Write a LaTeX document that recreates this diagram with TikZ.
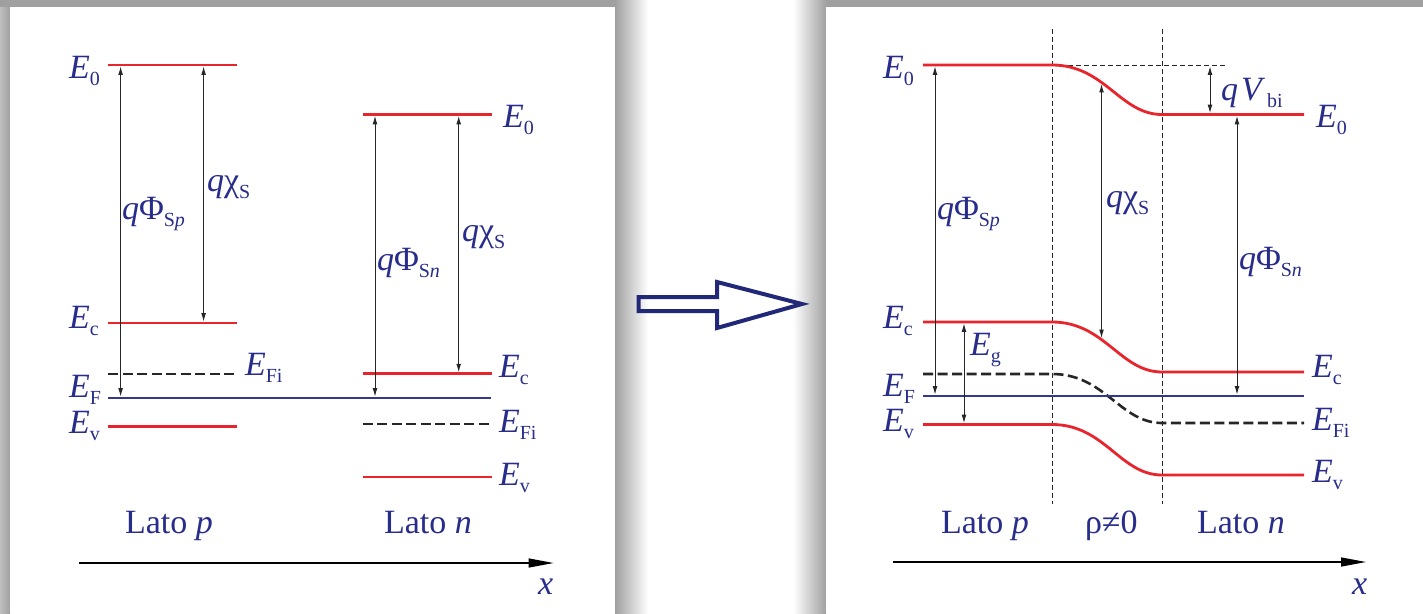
\documentclass[tikz,border=0pt]{standalone}
\usepackage{fontspec}
\setmainfont{Liberation Serif}
\usetikzlibrary{arrows.meta}
\definecolor{navy}{RGB}{40,44,138}
\definecolor{bandred}{RGB}{232,36,44}
\definecolor{fermi}{RGB}{52,56,140}
\definecolor{shadowgray}{RGB}{160,160,160}
\definecolor{shadowlight}{RGB}{190,190,190}
\definecolor{arrownavy}{RGB}{34,40,120}
\newcommand{\sbs}[1]{\raisebox{-7.5pt}{\fontsize{20}{20}\selectfont #1}}
\newcommand{\En}[1]{\textit{E}\sbs{#1}}
\newcommand{\qPhi}[1]{\textit{q}Φ\sbs{S\textit{#1}}}
\newcommand{\qChi}{\textit{q}χ\sbs{S}}
\begin{document}
\begin{tikzpicture}[x=1pt,y=-1pt,
 lab/.style={text=navy,font=\fontsize{34}{40}\selectfont,inner sep=0pt,outer sep=0pt,anchor=base west},
 band/.style={draw=bandred,line width=2.8pt},
 ef/.style={draw=fermi,line width=2.6pt},
 fi/.style={draw=black!85,line width=2.6pt,dash pattern=on 10pt off 4.5pt},
 dbl/.style={{Latex[length=8.5pt,width=4.8pt]}-{Latex[length=8.5pt,width=4.8pt]},line width=1pt,draw=black!85},
 guide/.style={draw=black!85,line width=0.9pt,dash pattern=on 5pt off 3pt},
 axis/.style={-{Triangle[length=25pt,width=9pt]},line width=1.3pt,draw=black},
 blockarrow/.style={draw=arrownavy,line width=4pt,line join=miter}
]
\useasboundingbox (0,0) rectangle (1423,613);
\fill[white] (0,0) rectangle (1423,613);
% shadows
\shade[left color=shadowlight,right color=shadowgray] (0,0) rectangle (10,613);
\fill[shadowgray] (0,0) rectangle (615,7);
\shade[left color=shadowgray,right color=white] (615,0) rectangle (648,613);
\shade[left color=white,right color=shadowgray] (793,0) rectangle (826,613);
\fill[shadowgray] (826,0) rectangle (1423,7);
% panels
\fill[white] (10,7) rectangle (615,613);
\fill[white] (826,7) rectangle (1423,613);

% ================= LEFT PANEL =================
\draw[band] (108,65) -- (237,65);
\draw[band] (108,323) -- (237,323);
\draw[fi] (108,374) -- (237,374);
\draw[ef] (108,398) -- (491,398);
\draw[band] (108,426.5) -- (237,426.5);
\draw[band] (362.6,114.5) -- (491.5,114.5);
\draw[band] (362.6,373.7) -- (491.5,373.7);
\draw[fi] (362.6,424) -- (491.5,424);
\draw[band] (362.6,477) -- (491.5,477);

\coordinate (a1t) at (120.6,66.3); \coordinate (a1b) at (120.6,396.7);
\coordinate (a2t) at (203.6,66.3); \coordinate (a2b) at (203.6,321.7);
\coordinate (a3t) at (375,115.8);  \coordinate (a3b) at (375,396.7);
\coordinate (a4t) at (458.7,115.8); \coordinate (a4b) at (458.7,372.4);
\draw[dbl] (a1t) -- (a1b);
\draw[dbl] (a2t) -- (a2b);
\draw[dbl] (a3t) -- (a3b);
\draw[dbl] (a4t) -- (a4b);

\node[lab] (lE0) at (69,78) {\En{0}};
\node[lab] (lEc) at (69,328) {\En{c}};
\node[lab] (lEF) at (69,397) {\En{F}};
\node[lab] (lEv) at (69,433) {\En{v}};
\node[lab] (lEFi) at (245,375) {\En{Fi}};
\node[lab] (lphip) at (122,219) {\qPhi{p}};
\node[lab] (lchip) at (207,191) {\qChi};
\node[lab] (lphin) at (377,270) {\qPhi{n}};
\node[lab] (lchin) at (462,241) {\qChi};
\node[lab] (lE0n) at (503,127) {\En{0}};
\node[lab] (lEcn) at (499,377) {\En{c}};
\node[lab] (lEFin) at (499,432) {\En{Fi}};
\node[lab] (lEvn) at (499,485) {\En{v}};
\node[lab] (latop) at (125,533.6) {Lato \textit{p}};
\node[lab] (laton) at (384,533.6) {Lato \textit{n}};
\coordinate (lax0) at (79,563); \coordinate (lax1) at (553.6,563);
\draw[axis] (lax0) -- (lax1);
\node[lab] (lx) at (538,594) {\textit{x}};

% ================= BLOCK ARROW =================
\draw[blockarrow] (638.7,297) -- (717,297) -- (717,282) -- (802,304) -- (717,328) -- (717,311) -- (638.7,311) -- cycle;

% ================= RIGHT PANEL =================
\coordinate (g1t) at (1052,28.5); \coordinate (g1b) at (1052,504);
\coordinate (g2t) at (1162,28.5); \coordinate (g2b) at (1162,504);
\coordinate (g3a) at (1052,65); \coordinate (g3b) at (1227,65);
\draw[guide] (g1t) -- (g1b);
\draw[guide] (g2t) -- (g2b);
\draw[guide] (g3a) -- (g3b);

\draw[band] (923,65) -- (1052,65) .. controls (1105,65) and (1120,114.5) .. (1162,114.5) coordinate[pos=0.4] (chiTop) -- (1304,114.5);
\draw[band] (923,322) -- (1052,322) .. controls (1105,322) and (1120,372) .. (1162,372) coordinate[pos=0.4] (chiBot) -- (1304,372);
\draw[fi] (923,374) -- (1052,374) .. controls (1105,374) and (1120,423) .. (1162,423) -- (1304,423);
\draw[ef] (923,396) -- (1304,396);
\draw[band] (923,424.5) -- (1052,424.5) .. controls (1105,424.5) and (1120,475) .. (1162,475) -- (1304,475);

\coordinate (b1t) at (935,66.3);  \coordinate (b1b) at (935,394.7);
\coordinate (b2t) at (964,323.3); \coordinate (b2b) at (964,423.2);
\coordinate (b4t) at (1237,115.8); \coordinate (b4b) at (1237,394.7);
\coordinate (b5t) at (1210,66.3); \coordinate (b5b) at (1210,113.2);
\draw[dbl] (b1t) -- (b1b);
\draw[dbl] (b2t) -- (b2b);
\draw[dbl] ([yshift=-1.5pt]chiTop) -- ([yshift=1.5pt]chiBot);
\draw[dbl] (b4t) -- (b4b);
\draw[dbl] (b5t) -- (b5b);

\node[lab] (rE0) at (883,78) {\En{0}};
\node[lab] (rEc) at (883,328) {\En{c}};
\node[lab] (rEF) at (883,396) {\En{F}};
\node[lab] (rEv) at (883,431) {\En{v}};
\node[lab] (rE0n) at (1316,127) {\En{0}};
\node[lab] (rEcn) at (1312,377) {\En{c}};
\node[lab] (rEFin) at (1312,430) {\En{Fi}};
\node[lab] (rEvn) at (1312,482) {\En{v}};
\node[lab] (rphip) at (937,219) {\qPhi{p}};
\node[lab] (rchi) at (1106,207) {\qChi};
\node[lab] (rphin) at (1239,269) {\qPhi{n}};
\node[lab] (rvbi) at (1221,100) {\textit{q}\kern3pt\textit{V}\kern2pt\sbs{bi}};
\node[lab] (rEg) at (970,355) {\En{g}};
\node[lab] (rlatop) at (941,533.6) {Lato \textit{p}};
\node[lab] (rrho) at (1085,533.6) {ρ≠0};
\node[lab] (rlaton) at (1197,533.6) {Lato \textit{n}};
\coordinate (rax0) at (893,562); \coordinate (rax1) at (1366,562);
\draw[axis] (rax0) -- (rax1);
\node[lab] (rx) at (1352,594) {\textit{x}};
\end{tikzpicture}
\end{document}
